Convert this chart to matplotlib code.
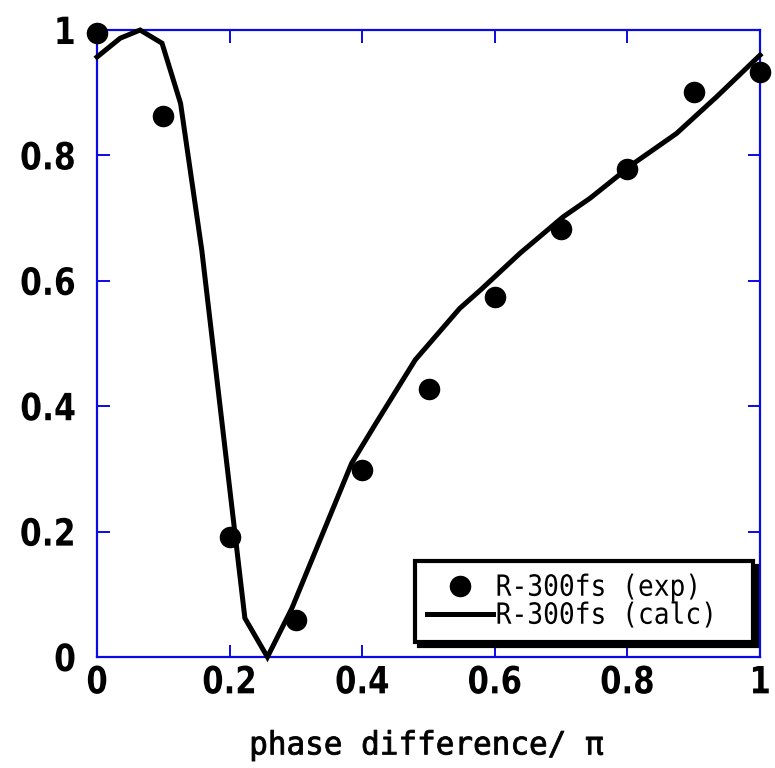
import matplotlib
matplotlib.use("Agg")
import matplotlib.pyplot as plt
from matplotlib.patheffects import AbstractPathEffect
from matplotlib.transforms import Affine2D

# Measured reflectance vs phase difference
exp_phase = [0.0, 0.1, 0.2, 0.3, 0.4, 0.5, 0.6, 0.7, 0.8, 0.9, 1.0]
exp_r = [0.995, 0.863, 0.191, 0.059, 0.298, 0.427, 0.575, 0.683, 0.778, 0.901, 0.933]

# Calculated curve
calc_phase = [0.0, 0.035, 0.065, 0.098, 0.126, 0.158, 0.223, 0.257, 0.294,
              0.384, 0.419, 0.480, 0.547, 0.578, 0.638, 0.703, 0.744, 0.809,
              0.874, 0.935, 1.0]
calc_r = [0.957, 0.987, 1.0, 0.979, 0.883, 0.649, 0.062, 0.0, 0.078,
          0.309, 0.370, 0.474, 0.556, 0.585, 0.644, 0.702, 0.732, 0.787,
          0.835, 0.894, 0.960]

x_ticks = [0, 0.2, 0.4, 0.6, 0.8, 1]
y_ticks = [0, 0.2, 0.4, 0.6, 0.8, 1]
tick_labels = ["0", "0.2", "0.4", "0.6", "0.8", "1"]

exp_label = "R-300fs (exp)"
calc_label = "R-300fs (calc)"
x_title = "phase difference/ \u03c0"


class HScale(AbstractPathEffect):
    """Squeeze text glyphs horizontally about its left, centre or right edge."""

    def __init__(self, sx, anchor="center", stroke=0.0):
        super().__init__()
        self.sx = sx
        self.anchor = anchor
        self.stroke = stroke

    def draw_path(self, renderer, gc, tpath, affine, rgbFace=None):
        ext = tpath.get_extents()
        if self.anchor == "left":
            cx = ext.x0
        elif self.anchor == "right":
            cx = ext.x1
        else:
            cx = 0.5 * (ext.x0 + ext.x1)
        t = Affine2D().translate(-cx, 0).scale(self.sx, 1).translate(cx, 0) + affine
        if self.stroke > 0:
            gc0 = renderer.new_gc()
            gc0.copy_properties(gc)
            gc0.set_linewidth(self.stroke)
            gc0.set_foreground(rgbFace if rgbFace is not None else "black")
            renderer.draw_path(gc0, tpath, t, rgbFace)
            gc0.restore()
        else:
            renderer.draw_path(gc, tpath, t, rgbFace)


frame = "#0a0ae6"
mono = "DejaVu Sans Mono"

fig = plt.figure(figsize=(7.75, 7.68), dpi=100)
ax = fig.add_axes([0.1252, 0.1445, 0.8555, 0.8164])

ax.plot(calc_phase, calc_r, color="black", lw=3.6, solid_joinstyle="miter",
        clip_on=False, zorder=3, label=calc_label)
ax.plot(exp_phase, exp_r, linestyle="none", marker="o", markersize=14.5,
        color="black", clip_on=False, zorder=4, label=exp_label)

ax.set_xlim(0, 1)
ax.set_ylim(0, 1)
ax.set_xticks(x_ticks)
ax.set_yticks(y_ticks)
ax.set_xticklabels(tick_labels, family="DejaVu Sans", fontweight="bold", fontsize=27)
ax.set_yticklabels(tick_labels, family="DejaVu Sans", fontweight="bold", fontsize=27)
for lbl in ax.get_xticklabels():
    lbl.set_path_effects([HScale(0.82, "center")])
for lbl in ax.get_yticklabels():
    lbl.set_path_effects([HScale(0.84, "right")])

for s in ax.spines.values():
    s.set_color(frame)
    s.set_linewidth(1.6)

ax.tick_params(axis="both", which="major", direction="in", length=9, width=1.4,
               color=frame, top=True, right=True)
ax.tick_params(axis="x", pad=6)
ax.tick_params(axis="y", pad=15)

xl = ax.set_xlabel(x_title, family=mono, fontsize=23)
ax.xaxis.set_label_coords(0.497, -0.117)
xl.set_path_effects([HScale(0.97, "center", stroke=0.6)])

handles, labels = ax.get_legend_handles_labels()
leg = ax.legend(handles[::-1], labels[::-1], loc="lower right",
                bbox_to_anchor=(0.989, 0.024), prop={"family": mono, "size": 21},
                frameon=True, fancybox=False,
                shadow={"color": "black", "alpha": 1.0, "ox": 3, "oy": -3},
                handlelength=2.25, handletextpad=0.1, labelspacing=0.0,
                borderpad=0.42, borderaxespad=0.0, numpoints=1)
leg.get_frame().set_edgecolor("black")
leg.get_frame().set_linewidth(3.0)
leg.get_frame().set_facecolor("white")
leg.get_frame().set_alpha(1.0)
leg.set_zorder(10)
for t in leg.get_texts():
    t.set_path_effects([HScale(0.9, "left")])

fig.savefig("out.png", dpi=100, facecolor="white")
